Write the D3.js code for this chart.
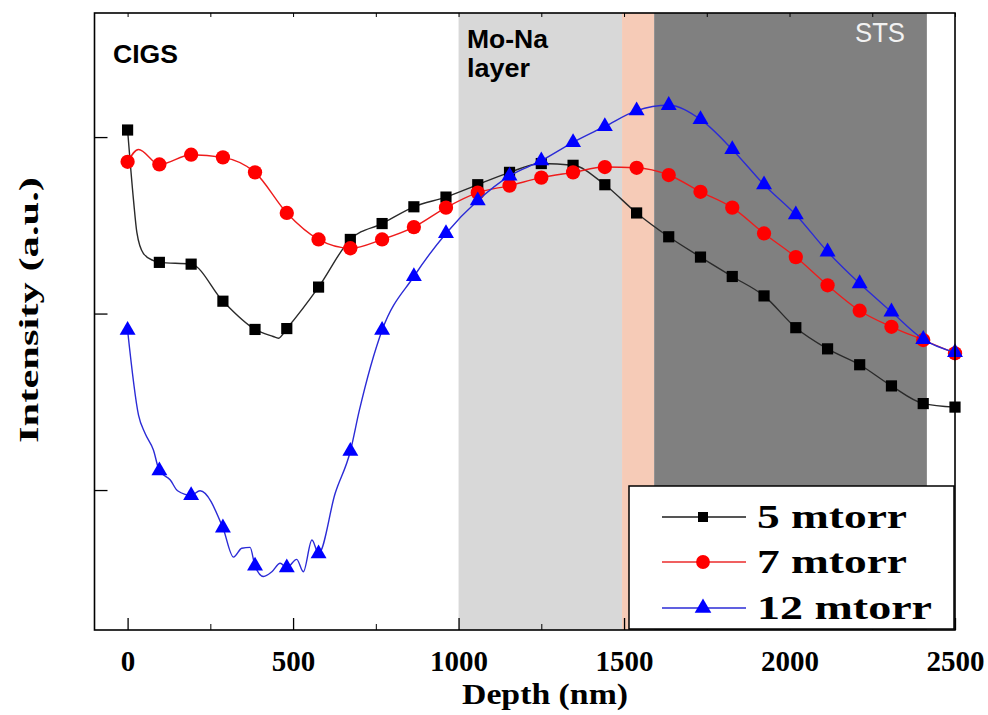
<!DOCTYPE html>
<html>
<head>
<meta charset="utf-8">
<script src="https://cdn.jsdelivr.net/npm/d3@7"></script>
<style>
  html, body { margin: 0; padding: 0; background: #fff; }
  svg { display: block; }
</style>
</head>
<body>
<div id="chart"></div>
<script>
// Marker depths (nm)
const depth = [0, 96, 192, 288, 385, 481, 577, 673, 769, 865, 962, 1058, 1154, 1250,
  1346, 1442, 1538, 1635, 1731, 1827, 1923, 2019, 2115, 2212, 2308, 2404, 2500];

// Intensity (a.u.) at the markers
const mtorr5 = [3.04, 2.29, 2.28, 2.07, 1.91, 1.915, 2.15, 2.42, 2.51, 2.605, 2.66, 2.73, 2.80, 2.85,
  2.84, 2.73, 2.57, 2.435, 2.32, 2.21, 2.10, 1.92, 1.80, 1.71, 1.59, 1.49, 1.47];
const mtorr7 = [2.86, 2.845, 2.90, 2.885, 2.80, 2.57, 2.42, 2.37, 2.42, 2.49, 2.60, 2.685, 2.725, 2.77,
  2.80, 2.83, 2.826, 2.785, 2.69, 2.60, 2.454, 2.32, 2.16, 2.016, 1.925, 1.85, 1.775];
const mtorr12 = [1.906, 1.11, 0.97, 0.786, 0.57, 0.56, 0.64, 1.22, 1.906, 2.21, 2.454, 2.64, 2.78, 2.866,
  2.97, 3.06, 3.15, 3.18, 3.10, 2.93, 2.73, 2.56, 2.35, 2.17, 2.01, 1.854, 1.78];

// Extra points of the measured trace that lie between markers [depth, intensity]
const trace5 = [[18, 2.64], [28, 2.46], [48, 2.34], [78, 2.30], [440, 1.87], [456, 1.86]];
const trace7 = [[33, 2.93]];
const trace12 = [[33, 1.425], [53, 1.32], [78, 1.227], [129, 1.057], [151, 0.996], [219, 0.996],
  [320, 0.62], [345, 0.67], [370, 0.675], [411, 0.51], [436, 0.537], [461, 0.585],
  [511, 0.607], [531, 0.537], [557, 0.717], [627, 0.98], [700, 1.45]];

const seriesNames = ['5 mtorr', '7 mtorr', '12 mtorr'];

// Layer bands (nm)
const bandStart = [1000, 1494, 1591];
const bandEnd = [1494, 1591, 2415];

const xTicks = [0, 500, 1000, 1500, 2000, 2500];
const xMinorTicks = [250, 750, 1250, 1750, 2250];
const yTicks = [1, 2, 3];

const width = 988, height = 715;
const plot = { left: 94.5, right: 955, top: 13, bottom: 630 };

const svg = d3.select('#chart').append('svg')
  .attr('width', width)
  .attr('height', height);

const x = d3.scaleLinear().domain([-100, 2500]).range([plot.left, plot.right]);
const y = d3.scaleLinear().domain([0.207, 3.703]).range([plot.bottom, plot.top]);

// background bands
const bandColors = ['#d8d8d8', '#f6cbb7', '#808080'];
svg.append('g').selectAll('rect')
  .data(bandStart)
  .enter().append('rect')
  .attr('x', (d, i) => x(d))
  .attr('y', plot.top)
  .attr('width', (d, i) => x(bandEnd[i]) - x(d))
  .attr('height', plot.bottom - plot.top)
  .attr('fill', (d, i) => bandColors[i]);

// region labels
svg.append('text').attr('x', 113).attr('y', 63)
  .style('font-family', 'Liberation Sans, Arial, sans-serif').style('font-weight', 'bold')
  .style('font-size', '26px').attr('textLength', 65).attr('lengthAdjust', 'spacingAndGlyphs')
  .text('CIGS');
svg.append('text').attr('x', 467).attr('y', 48)
  .style('font-family', 'Liberation Sans, Arial, sans-serif').style('font-weight', 'bold')
  .style('font-size', '26px').attr('textLength', 81).attr('lengthAdjust', 'spacingAndGlyphs')
  .text('Mo-Na');
svg.append('text').attr('x', 467).attr('y', 77)
  .style('font-family', 'Liberation Sans, Arial, sans-serif').style('font-weight', 'bold')
  .style('font-size', '26px').attr('textLength', 63).attr('lengthAdjust', 'spacingAndGlyphs')
  .text('layer');
svg.append('text').attr('x', 855).attr('y', 42)
  .style('font-family', 'Liberation Sans, Arial, sans-serif')
  .style('font-size', '27px').attr('fill', '#f2f2f2')
  .attr('textLength', 50).attr('lengthAdjust', 'spacingAndGlyphs')
  .text('STS');

// series
const markerSeries = [mtorr5, mtorr7, mtorr12];
const traces = [trace5, trace7, trace12];
const lineColors = ['#2a2a2a', '#ee1c1c', '#2b2bd6'];
const fillColors = ['#000000', '#ff0000', '#0000ff'];
const symbols = [d3.symbolSquare, d3.symbolCircle, d3.symbolTriangle];
const symbolSizes = [125, 160, 110];

const line = d3.line()
  .x(d => x(d[0]))
  .y(d => y(d[1]))
  .curve(d3.curveMonotoneX);

markerSeries.forEach((vals, i) => {
  const pts = depth.map((d, j) => [d, vals[j]]).concat(traces[i])
    .sort((a, b) => a[0] - b[0]);

  svg.append('path')
    .datum(pts)
    .attr('d', line)
    .attr('fill', 'none')
    .attr('stroke', lineColors[i])
    .attr('stroke-width', 1.4);

  svg.append('g').selectAll('path')
    .data(depth)
    .enter().append('path')
    .attr('transform', (d, j) => `translate(${x(d)},${y(vals[j])})`)
    .attr('d', d3.symbol().type(symbols[i]).size(symbolSizes[i]))
    .attr('fill', fillColors[i]);
});

// axes with inward ticks
svg.append('g')
  .attr('transform', `translate(0,${plot.bottom})`)
  .call(d3.axisBottom(x).tickValues(xMinorTicks).tickSize(-6).tickFormat(''))
  .call(g => g.select('.domain').remove());

const xAxis = svg.append('g')
  .attr('transform', `translate(0,${plot.bottom})`)
  .call(d3.axisBottom(x).tickValues(xTicks).tickSize(-12).tickPadding(20).tickFormat(d3.format('d')))
  .call(g => g.select('.domain').remove());
xAxis.selectAll('line').attr('stroke-width', 1.3);
xAxis.selectAll('text')
  .style('font-family', 'Liberation Serif, Times New Roman, serif')
  .style('font-weight', 'bold')
  .style('font-size', '29px')
  .attr('fill', '#000');

svg.append('g')
  .attr('transform', `translate(0,${plot.top})`)
  .call(d3.axisTop(x).tickValues(xTicks.concat(xMinorTicks)).tickSize(-4).tickFormat(''))
  .call(g => g.select('.domain').remove());

svg.append('g')
  .attr('transform', `translate(${plot.left},0)`)
  .call(d3.axisLeft(y).tickValues(yTicks).tickSize(-13).tickFormat(''))
  .call(g => g.select('.domain').remove())
  .selectAll('line').attr('stroke-width', 1.3);

// legend
const legendRows = [517, 562, 608];
const legendText = [150, 150, 175];
const legendLineColors = ['#555555', '#f06060', '#6060e0'];
const legendSizes = [100, 150, 120];
svg.append('rect')
  .attr('x', 629).attr('y', 486)
  .attr('width', 325).attr('height', 143)
  .attr('fill', '#fff')
  .attr('stroke', '#000')
  .attr('stroke-width', 1.5);

const legend = svg.append('g').selectAll('g')
  .data(seriesNames)
  .enter().append('g')
  .attr('transform', (d, i) => `translate(0,${legendRows[i]})`);

legend.append('line')
  .attr('x1', 662).attr('x2', 746)
  .attr('stroke', (d, i) => legendLineColors[i])
  .attr('stroke-width', 2);
legend.append('path')
  .attr('transform', 'translate(703,0)')
  .attr('d', (d, i) => d3.symbol().type(symbols[i]).size(legendSizes[i])())
  .attr('fill', (d, i) => fillColors[i]);
legend.append('text')
  .attr('x', 757).attr('y', 11)
  .style('font-family', 'Liberation Serif, Times New Roman, serif')
  .style('font-weight', 'bold')
  .style('font-size', '33px')
  .attr('textLength', (d, i) => legendText[i])
  .attr('lengthAdjust', 'spacingAndGlyphs')
  .text(d => d);

// frame
svg.append('rect')
  .attr('x', plot.left).attr('y', plot.top)
  .attr('width', plot.right - plot.left).attr('height', plot.bottom - plot.top)
  .attr('fill', 'none')
  .attr('stroke', '#000')
  .attr('stroke-width', 1.6);

// axis titles
svg.append('text')
  .attr('x', 462).attr('y', 704)
  .style('font-family', 'Liberation Serif, Times New Roman, serif')
  .style('font-weight', 'bold')
  .style('font-size', '30px')
  .attr('textLength', 166).attr('lengthAdjust', 'spacingAndGlyphs')
  .text('Depth (nm)');

svg.append('text')
  .attr('transform', 'translate(38,310) rotate(-90)')
  .attr('text-anchor', 'middle')
  .style('font-family', 'Liberation Serif, Times New Roman, serif')
  .style('font-weight', 'bold')
  .style('font-size', '28px')
  .attr('textLength', 266).attr('lengthAdjust', 'spacingAndGlyphs')
  .text('Intensity (a.u.)');
</script>
</body>
</html>
